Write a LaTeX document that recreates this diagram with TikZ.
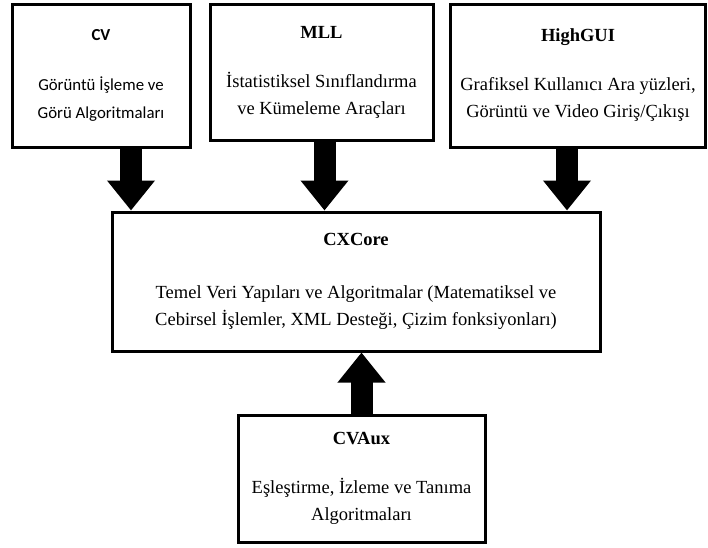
\documentclass[tikz,border=0pt]{standalone}
\usepackage{fontspec}
\setmainfont{Liberation Serif}
\newfontfamily\cvfont{Carlito}
\usepackage{tikz}
\usetikzlibrary{arrows.meta,positioning}

\tikzset{
  modbox/.style={draw, line width=3pt, align=center, inner sep=4pt},
  bodytext/.style={font=\fontsize{18.5}{27}\selectfont},
  blockarrow/.style={line width=22pt, -{Triangle[width=46pt,length=30pt]}}
}

\begin{document}
\begin{tikzpicture}[x=1pt,y=-1pt]
        \useasboundingbox (0,0) rectangle (708,547);

        % upper modules
        \node[modbox, bodytext, minimum width=178pt, minimum height=143pt, font=\cvfont\fontsize{16.8}{28}\selectfont] (cv) at (101,75.5) {\textbf{CV}\\[22pt]Görüntü İşleme ve\\Görü Algoritmaları};
        \node[modbox, bodytext, minimum width=223pt, minimum height=136pt] (mll) at (321.5,72) {\textbf{MLL}\\[22pt]İstatistiksel Sınıflandırma\\ve Kümeleme Araçları};
        \node[modbox, bodytext, minimum width=255pt, minimum height=143pt] (highgui) at (578,75.5) {\textbf{HighGUI}\\[22pt]Grafiksel Kullanıcı Ara yüzleri,\\Görüntü ve Video Giriş/Çıkışı};

        % core
        \node[modbox, bodytext, minimum width=488pt, minimum height=139pt] (cxcore) at (356,281.5) {\textbf{CXCore}\\[26pt]Temel Veri Yapıları ve Algoritmalar (Matematiksel ve\\Cebirsel İşlemler, XML Desteği, Çizim fonksiyonları)};

        % aux
        \node[modbox, bodytext, minimum width=247pt, minimum height=127pt] (cvaux) at (361.5,478.5) {\textbf{CVAux}\\[22pt]Eşleştirme, İzleme ve Tanıma\\Algoritmaları};

        \draw[blockarrow] ([xshift=30pt]cv.south) -- ([xshift=30pt]cv.south |- cxcore.north);
        \draw[blockarrow] ([xshift=3pt]mll.south) -- ([xshift=3pt]mll.south |- cxcore.north);
        \draw[blockarrow] ([xshift=-11pt]highgui.south) -- ([xshift=-11pt]highgui.south |- cxcore.north);
        \draw[blockarrow] (cvaux.north) -- (cvaux.north |- cxcore.south);
    \end{tikzpicture}
\end{document}
